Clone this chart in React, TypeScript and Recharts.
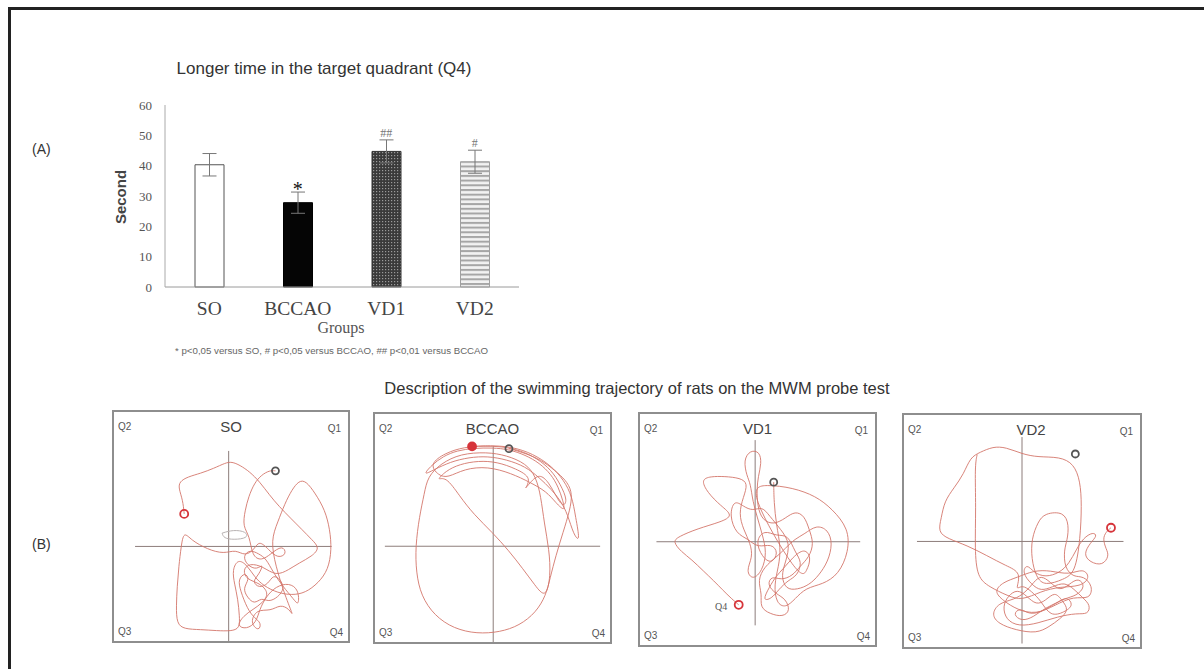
import {
  BarChart,
  Bar,
  Cell,
  XAxis,
  YAxis,
  ErrorBar,
  ReferenceDot,
  ReferenceLine,
  ScatterChart,
  Scatter,
} from "recharts";

// panel A
const groups = ["SO", "BCCAO", "VD1", "VD2"];
const meanTime = [40.3, 27.8, 44.7, 41.3];
const semTime = [3.7, 3.5, 3.8, 3.8];
const sigMarks = ["", "*", "##", "#"];
const yTicks = [0, 10, 20, 30, 40, 50, 60];

// panel B: swim paths in arena units (0-100, y up)
const soPath = [
  [30, 55.5], [29.4, 61.6], [27.6, 66.7], [28, 69.6], [31.5, 71.7], [37, 73.2], [42.7, 75.4],
  [47.6, 77.8], [50.3, 78.3], [53.8, 76.8], [58, 73.9], [62.2, 69.6], [66.4, 63.8], [70.6, 58.7],
  [75.5, 53.6], [80.4, 48.6], [84.6, 44.2], [88, 40.6], [84.6, 37], [79, 34], [74.8, 31.2],
  [69.2, 28.3], [63.6, 32.6], [58, 34], [55, 31.2], [56.6, 26.8], [62.2, 25.4], [66.4, 21],
  [63.6, 16.7], [59.4, 13.8], [55.2, 10.9], [52.4, 6.5], [56.6, 5.1], [60.8, 8], [62.2, 13.8],
  [65, 19.4], [69.2, 23.9], [74.8, 25.4], [79, 22.5], [79, 15.2], [77, 18], [72, 24], [68, 30],
  [65, 36], [62, 38], [58, 40], [55, 37], [57, 33], [61, 31], [64, 34], [62, 29], [59, 26],
  [62, 23], [66, 25], [68, 29], [71, 27], [73, 23], [70, 19], [66, 17], [63, 19], [60, 16],
  [57, 19], [55, 23], [58, 27], [56, 30], [53, 27], [54, 22], [57, 14], [60, 10], [63, 8],
  [62, 4], [58, 8], [61, 14], [67, 13], [71, 16], [75, 14], [77, 10], [73, 20], [69, 33],
  [67, 44], [70, 52], [73, 60], [76, 66], [79, 70], [82, 70], [86, 64.5], [90.2, 57.2],
  [92.3, 48.6], [93, 39.9], [91.6, 31.2], [87.4, 25.4], [81.8, 21], [76, 20], [70, 21], [64, 24],
  [60, 28], [57, 33], [53, 36], [50.5, 31], [51.5, 25], [53, 18], [53.6, 11], [53.8, 5.5],
  [50, 4.3], [44, 4.5], [37, 5], [30, 5.2], [26.8, 7.5], [26.6, 15.2], [27, 23.9], [27.7, 32.6],
  [28.7, 41.3], [29.8, 48], [33, 44], [40, 40], [47, 38], [52, 40], [56, 37], [60, 40], [62, 44],
  [66, 40], [70, 36], [74, 38], [72, 42], [67, 38], [63, 35], [59, 37], [58, 46], [55, 50],
  [56, 57], [57.5, 63], [60, 69], [63, 72.5], [66.5, 74.5], [69, 74.3],
];
const soGray = [[46.2, 47.1], [51, 48.6], [56.6, 47.8], [57.3, 44.9], [51, 44.2], [46.9, 44.9], [46.2, 47.1]];

const bccaoPath = [
  [41.3, 85.8], [50.3, 86.2], [58.7, 85.5], [67.1, 82.6], [74.8, 77.5], [80.4, 71], [83.9, 63.8],
  [85.3, 55.1], [87.4, 43.5], [84.5, 47], [82, 56], [79, 62], [75, 67], [70, 72], [64, 77],
  [56, 80], [48, 81.5], [40, 81], [32, 79], [25, 75.5], [20.3, 73], [24, 77.5], [29, 81.5],
  [35, 84], [42, 85], [50, 85.2], [57, 84.5], [64, 82], [70, 78.5], [75, 73.5], [78, 68],
  [80, 62], [81, 57], [77, 61], [73, 66], [66, 70], [58, 74], [48, 77], [38, 76], [31, 72],
  [27, 73], [23, 78], [30, 83], [38, 85.5], [46, 86], [54, 85.8], [62, 84], [69, 80.5],
  [75, 75.5], [79, 69], [82, 62], [80, 59], [77, 64], [74, 70], [70, 74], [66, 70], [63, 66],
  [67, 72], [60, 76], [52, 79], [44, 79.5], [36, 78], [30, 75], [26, 70.5], [30, 73],
  [36, 64], [42, 56], [50, 48], [57, 40], [63, 32], [68, 25], [72.7, 18.8], [74.8, 29],
  [74.1, 40.6], [72, 52.2], [70.6, 63.8], [68.5, 72.5], [64.3, 78.3], [55.9, 81.9], [47.6, 83.3],
  [36.4, 82.6], [28, 78.3], [22.4, 72.5], [21, 65.2], [18.9, 55.1], [17.2, 42], [17.5, 30.4],
  [19.6, 20.3], [25.2, 11.6], [33.6, 5.8], [43.4, 3.6], [53.1, 4.3], [61.5, 7.2], [68.5, 13],
  [72.7, 20.3], [74.5, 28], [77, 38], [80, 48], [83, 58], [84, 65], [82, 70], [78, 74], [72, 79],
  [66, 82], [60, 84], [57, 84.8],
];

const vd1Path = [
  [42, 17.4], [39, 20], [35, 24], [31.5, 27.7], [27, 32], [22, 37], [17.5, 40.4], [14, 44.7],
  [16.1, 46.8], [24.5, 50.4], [34.3, 53.2], [39.9, 56], [34.3, 60.3], [28.7, 66], [25.9, 71.6],
  [30, 73], [36, 73], [42.7, 72.3], [46, 70], [44, 64], [42, 57], [44, 50], [47, 44], [48, 38],
  [45, 32], [48, 28], [52, 32], [54, 40], [52, 48], [50, 55], [48, 62], [47, 70], [45.5, 73],
  [44, 80.1], [46.9, 84.4], [51, 83.7], [51.7, 78.7], [50.3, 73], [49.7, 67.4], [50, 60], [52, 54],
  [57, 52], [62, 55], [66, 58], [70, 56], [72, 50], [74, 44], [72, 38], [68, 34], [65, 30],
  [60, 28], [56, 30], [54, 26], [58, 22], [62, 20], [64, 14.9], [60.8, 12.1], [55.2, 13.5],
  [51, 16.3], [52, 22], [50, 28], [53, 34], [58, 38], [62, 42], [66, 46], [70, 48], [75, 52],
  [80, 50], [82, 44], [80, 36], [76, 30], [72, 26], [67, 24], [62, 24], [60, 30], [62, 36],
  [64, 44], [60, 50], [55, 56], [52, 60], [48, 58], [44, 60], [40, 63], [38, 56], [41, 48],
  [46, 46], [50, 42], [56, 44], [59, 40], [56, 35], [52, 38], [49, 45], [53, 50], [58, 47],
  [63, 48], [66, 40], [69, 36], [67, 30], [63, 28], [59, 24], [56, 20], [52, 19], [55, 25],
  [58, 30], [61, 33], [65, 38], [70, 42], [73, 38], [71, 32], [68, 28], [45, 68], [53.8, 69.5],
  [65, 68.1], [74.8, 64.5], [81.8, 58.9], [88.8, 50.4], [88.8, 40.4], [84.6, 30.5], [77.6, 26.2],
  [70.6, 24.8], [66, 20], [62, 16], [58, 18], [57, 26], [59, 34], [60, 42], [58, 52], [57, 62],
  [56.9, 70.5],
];

const vd2Path = [
  [87.7, 51.4], [85.6, 49.6], [84.2, 46.7], [85.6, 42.3], [87, 39.4], [84.2, 35], [78.8, 36.5],
  [76, 40], [79, 45], [82, 48], [80.1, 49.6], [76, 47], [73, 42], [70, 36], [66, 32], [60, 30],
  [55, 32], [52, 36], [50, 32], [54, 27], [58, 24], [63, 26], [68, 28], [72, 25], [76, 21],
  [79, 18], [78, 14], [73.3, 14.6], [65.1, 13.1], [56.8, 10.2], [48.6, 8.8], [43.2, 11.7],
  [41.8, 17.5], [44, 22], [48, 25], [52, 22], [56, 18], [60, 20], [64, 24], [67, 20], [70, 16],
  [66, 12], [61.6, 8.8], [56.2, 5.8], [47.3, 7.3], [40, 10], [37, 14], [40, 19], [46.6, 20.4],
  [51.4, 23.4], [55, 28], [58, 31], [62, 28], [66, 24], [70, 27], [74, 30], [77, 26], [73, 22],
  [68, 21], [63, 18], [58, 15], [53, 14], [49, 17], [46, 14], [50, 11], [55, 13], [60, 17],
  [65, 19], [69, 22], [72, 18], [68, 15], [62, 13], [58, 20], [54, 24], [50, 27], [47, 24],
  [50, 32.1], [43.2, 35], [35.1, 39.4], [26.7, 43.8], [18.5, 46.7],
  [14.4, 49.6], [15.8, 55.5], [17.1, 62.8], [21.2, 68.6], [25.3, 74.5], [28.1, 81.8], [32.2, 83.9],
  [37.7, 86.4], [43.2, 86.1], [50, 83.2], [56.8, 81.8], [66, 82], [72, 79], [74.7, 71.5],
  [75.3, 61.3], [74.7, 46.7], [72.6, 32.1], [67.8, 29.2], [59.6, 26.3], [56, 30], [54, 38],
  [54, 46.7], [56.8, 54], [59.6, 57.7], [67.8, 58.4], [69.9, 52.6], [69.2, 46], [67.8, 42],
  [68, 34], [72, 30], [76, 30.7], [80.1, 26.3], [78.8, 20.4], [72, 22], [64, 18], [56, 14],
  [48, 16], [42, 20], [38, 24], [42, 28], [48, 30], [55, 33], [62, 33], [70, 31], [76, 34],
  [79, 30], [75, 26], [66, 26], [58, 24], [50, 20], [44, 22], [36, 26], [31, 30], [30, 42],
  [30.5, 60], [30, 78], [31, 83],
];

// start (red) and end (dark) positions
const starts = [[30, 55.5], [41.3, 85.8], [42, 17.4], [87.7, 51.4]];
const ends = [[69, 74.3], [57, 84.8], [56.9, 70.5], [72.6, 83.2]];

const barData = groups.map((g, i) => ({ group: g, time: meanTime[i], err: semTime[i] }));
const barFills = ["#ffffff", "#050505", "url(#checker)", "url(#hstripe)"];
const barStrokes = ["#555", "#000", "#333", "#a0a0a0"];
const sigStyle = [
  { fontSize: 0, fill: "#000", offset: 0 },
  { fontSize: 20, fill: "#111", offset: -4 },
  { fontSize: 12, fill: "#777", offset: 3 },
  { fontSize: 12, fill: "#777", offset: 3 },
];

const toPts = (arr: number[][]) => arr.map(([x, y]) => ({ x, y }));
const noDot = () => <g />;

const TRAIL = "#d4766b";
const CROSS = "#8d7d7b";

type ArenaProps = {
  left: number;
  top: number;
  w: number;
  h: number;
  title: string;
  titleShift?: number;
  path: number[][];
  gray?: number[][];
  start: number[];
  end: number[];
  filledStart?: boolean;
  vx: number;
  vy: [number, number];
  hy: number;
  hx: [number, number];
  q4Note?: boolean;
};

const qStyle: React.CSSProperties = {
  position: "absolute",
  fontSize: 10,
  color: "#555",
  fontFamily: "Liberation Sans, Arial, sans-serif",
  lineHeight: 1,
};

const Arena = (p: ArenaProps) => {
  const cw = p.w - 4;
  const ch = p.h - 4;
  return (
    <div
      style={{
        position: "absolute",
        left: p.left,
        top: p.top,
        width: p.w,
        height: p.h,
        border: "2px solid #8e8e8e",
        boxSizing: "border-box",
      }}
    >
      <ScatterChart width={cw} height={ch} margin={{ top: 0, right: 0, bottom: 0, left: 0 }}>
        <XAxis type="number" dataKey="x" domain={[0, 100]} hide />
        <YAxis type="number" dataKey="y" domain={[0, 100]} hide />
        <ReferenceLine
          segment={[{ x: p.vx, y: p.vy[0] }, { x: p.vx, y: p.vy[1] }]}
          stroke={CROSS}
          strokeWidth={1}
        />
        <ReferenceLine
          segment={[{ x: p.hx[0], y: p.hy }, { x: p.hx[1], y: p.hy }]}
          stroke={CROSS}
          strokeWidth={1}
        />
        {p.gray && (
          <Scatter
            data={toPts(p.gray)}
            line={{ stroke: "#b9b3b3", strokeWidth: 1 }}
            lineJointType="basis"
            shape={noDot}
            isAnimationActive={false}
          />
        )}
        <Scatter
          data={toPts(p.path)}
          line={{ stroke: TRAIL, strokeWidth: 0.9 }}
          lineJointType="basis"
          shape={noDot}
          isAnimationActive={false}
        />
        <Scatter
          data={toPts([p.start])}
          isAnimationActive={false}
          shape={(s: any) => (
            <circle
              cx={s.cx}
              cy={s.cy}
              r={4}
              fill={p.filledStart ? "#d6343a" : "none"}
              stroke="#d6343a"
              strokeWidth={1.8}
            />
          )}
        />
        <Scatter
          data={toPts([p.end])}
          isAnimationActive={false}
          shape={(s: any) => (
            <circle cx={s.cx} cy={s.cy} r={3.5} fill="none" stroke="#555" strokeWidth={1.8} />
          )}
        />
        {p.q4Note && (
          <ReferenceDot
            x={p.start[0] - 7.5}
            y={p.start[1] - 0.5}
            r={0}
            fill="none"
            stroke="none"
            label={{ value: "Q4", position: "center", fontSize: 10, fill: "#555" }}
          />
        )}
      </ScatterChart>
      <span style={{ ...qStyle, left: 4, top: 10 }}>Q2</span>
      <span style={{ ...qStyle, right: 7, top: 12 }}>Q1</span>
      <span style={{ ...qStyle, left: 4, bottom: 4 }}>Q3</span>
      <span style={{ ...qStyle, right: 5, bottom: 3 }}>Q4</span>
      <div
        style={{
          position: "absolute",
          left: p.titleShift ?? 0,
          right: 0,
          top: 7,
          textAlign: "center",
          fontSize: 15,
          lineHeight: 1,
          color: "#444",
          fontFamily: "Liberation Sans, Arial, sans-serif",
        }}
      >
        {p.title}
      </div>
    </div>
  );
};

const txt = (extra: React.CSSProperties): React.CSSProperties => ({
  position: "absolute",
  fontFamily: "Liberation Sans, Arial, sans-serif",
  lineHeight: 1,
  whiteSpace: "nowrap",
  ...extra,
});

const App = () => {
  return (
    <div
      style={{
        position: "absolute",
        left: 0,
        top: 0,
        width: 1204,
        height: 669,
        overflow: "hidden",
        background: "#fff",
      }}
    >
      <div
        style={{
          position: "absolute",
          left: 8,
          top: 7,
          width: 1400,
          height: 900,
          borderLeft: "3px solid #222",
          borderTop: "3px solid #222",
        }}
      />

      <div style={txt({ left: 32, top: 142, fontSize: 14, color: "#333" })}>(A)</div>
      <div style={txt({ left: 32, top: 537, fontSize: 14, color: "#333" })}>(B)</div>

      <div style={txt({ left: 0, width: 648, top: 60, textAlign: "center", fontSize: 17, color: "#333" })}>
        Longer time in the target quadrant (Q4)
      </div>

      <div
        style={txt({
          left: 120,
          top: 197,
          fontSize: 15,
          fontWeight: "bold",
          color: "#444",
          transform: "translate(-50%, -50%) rotate(-90deg)",
        })}
      >
        Second
      </div>

      <div style={{ position: "absolute", left: 100, top: 95 }}>
        <BarChart
          width={430}
          height={260}
          data={barData}
          margin={{ top: 10, right: 11, bottom: 38, left: 25 }}
          barSize={29}
        >
          <defs>
            <pattern id="checker" width="3" height="3" patternUnits="userSpaceOnUse">
              <rect width="3" height="3" fill="#3a3a3a" />
              <rect width="1.2" height="1.2" fill="#9a9a9a" />
            </pattern>
            <pattern id="hstripe" width="4" height="4.7" patternUnits="userSpaceOnUse">
              <rect width="4" height="4.7" fill="#f2f2f2" />
              <rect width="4" height="2" fill="#a6a6a6" />
            </pattern>
          </defs>
          <XAxis
            dataKey="group"
            axisLine={{ stroke: "#9a9a9a" }}
            tickLine={false}
            tickMargin={8}
            height={30}
            interval={0}
            tick={{ fill: "#444", fontSize: 19.5, fontFamily: "Liberation Serif, serif" }}
          />
          <YAxis
            domain={[0, 60]}
            ticks={yTicks}
            width={40}
            axisLine={{ stroke: "#aaa" }}
            tickLine={false}
            tickMargin={7}
            tick={{ fill: "#555", fontSize: 13, fontFamily: "Liberation Serif, serif" }}
          />
          <Bar dataKey="time" isAnimationActive={false}>
            {barData.map((d, i) => (
              <Cell key={d.group} fill={barFills[i]} stroke={barStrokes[i]} strokeWidth={1} />
            ))}
            <ErrorBar dataKey="err" width={7} stroke="#777" strokeWidth={1} direction="y" />
          </Bar>
          {barData.map((d, i) =>
            sigMarks[i] ? (
              <ReferenceDot
                key={d.group}
                x={d.group}
                y={d.time + d.err}
                r={0}
                fill="none"
                stroke="none"
                label={{
                  value: sigMarks[i],
                  position: "top",
                  offset: sigStyle[i].offset,
                  fontSize: sigStyle[i].fontSize,
                  fill: sigStyle[i].fill,
                  fontFamily: "Liberation Serif, serif",
                }}
              />
            ) : null
          )}
        </BarChart>
      </div>

      <div
        style={txt({ left: 341, top: 328, transform: "translate(-50%, -50%)", fontSize: 16, color: "#555", fontFamily: "Liberation Serif, serif" })}
      >
        Groups
      </div>
      <div style={txt({ left: 175, top: 346, fontSize: 9.7, color: "#666" })}>
        * p&lt;0,05 versus SO, # p&lt;0,05 versus BCCAO, ## p&lt;0,01 versus BCCAO
      </div>

      <div style={txt({ left: 0, width: 1274, top: 380, textAlign: "center", fontSize: 16.5, color: "#333" })}>
        Description of the swimming trajectory of rats on the MWM probe test
      </div>

      <Arena left={112} top={410} w={238} h={233} title="SO" path={soPath} gray={soGray}
        start={starts[0]} end={ends[0]} vx={49} vy={[0, 83]} hy={41.3} hx={[9, 93]} />
      <Arena left={373} top={412} w={239} h={232} title="BCCAO" path={bccaoPath}
        start={starts[1]} end={ends[1]} filledStart vx={50.3} vy={[0, 86]} hy={42} hx={[4.2, 95.8]} />
      <Arena left={638} top={412} w={239} h={235} title="VD1" path={vd1Path}
        start={starts[2]} end={ends[2]} vx={49} vy={[8.5, 88.7]} hy={44.7} hx={[7, 93.7]} q4Note />
      <Arena left={902} top={413} w={240} h={236} title="VD2" titleShift={18} path={vd2Path}
        start={starts[3]} end={ends[3]} vx={50} vy={[1.5, 90.5]} hy={45.5} hx={[5.5, 93]} />
    </div>
  );
};

export default App;
